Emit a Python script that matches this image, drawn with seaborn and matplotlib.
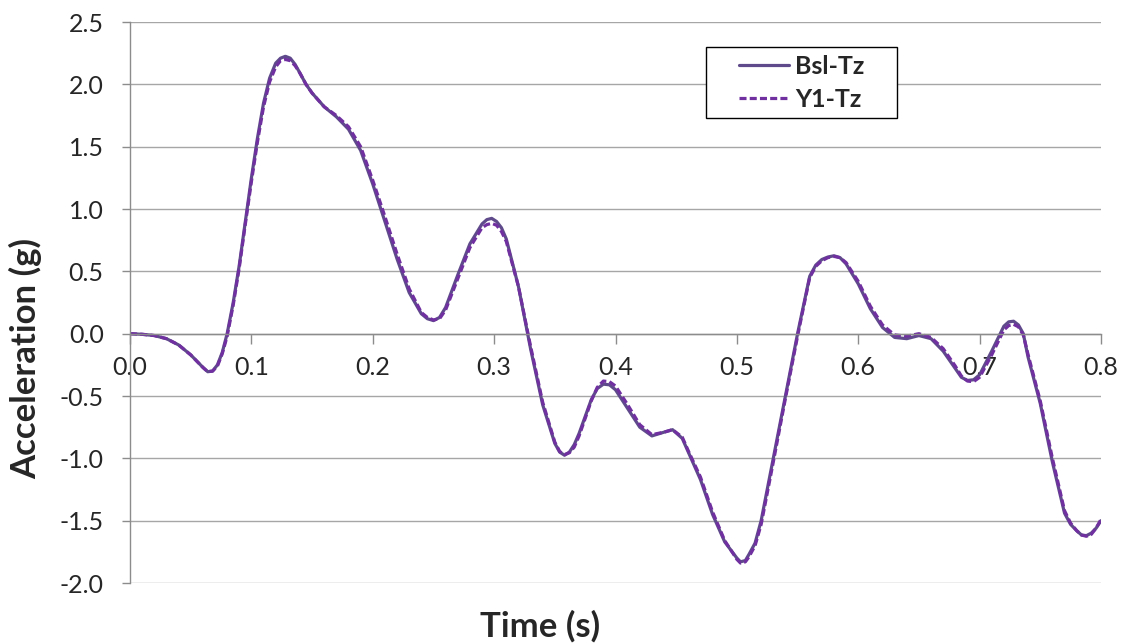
import numpy as np
import pandas as pd
import matplotlib
matplotlib.use("Agg")
import matplotlib.pyplot as plt
import seaborn as sns
from matplotlib.patches import Rectangle

# Values
time_s = [0.000, 0.010, 0.020, 0.030, 0.040, 0.050, 0.060, 0.064, 0.068, 0.072,
          0.076, 0.080, 0.085, 0.090, 0.095, 0.100, 0.105, 0.110, 0.115, 0.120,
          0.124, 0.128, 0.132, 0.136, 0.140, 0.145, 0.150, 0.160, 0.170, 0.180,
          0.190, 0.200, 0.210, 0.220, 0.230, 0.240, 0.245, 0.250, 0.255, 0.260,
          0.270, 0.280, 0.290, 0.294, 0.298, 0.302, 0.306, 0.310, 0.320, 0.330,
          0.340, 0.350, 0.354, 0.358, 0.362, 0.366, 0.370, 0.380, 0.385, 0.390,
          0.395, 0.400, 0.410, 0.420, 0.430, 0.440, 0.447, 0.455, 0.460, 0.470,
          0.480, 0.490, 0.500, 0.503, 0.507, 0.510, 0.515, 0.520, 0.530, 0.540,
          0.550, 0.560, 0.565, 0.570, 0.575, 0.580, 0.585, 0.590, 0.600, 0.610,
          0.620, 0.630, 0.640, 0.650, 0.660, 0.670, 0.680, 0.685, 0.690, 0.695,
          0.700, 0.710, 0.720, 0.724, 0.728, 0.732, 0.736, 0.740, 0.750, 0.760,
          0.770, 0.775, 0.780, 0.784, 0.788, 0.792, 0.796, 0.800]

bsl_tz = [0.00, -0.005, -0.015, -0.04, -0.09, -0.17, -0.27, -0.305, -0.30, -0.25,
          -0.15, 0.00, 0.25, 0.55, 0.90, 1.25, 1.57, 1.85, 2.05, 2.17,
          2.21, 2.225, 2.21, 2.16, 2.09, 2.00, 1.93, 1.82, 1.74, 1.64,
          1.47, 1.20, 0.90, 0.60, 0.33, 0.16, 0.12, 0.105, 0.13, 0.21,
          0.47, 0.72, 0.88, 0.915, 0.925, 0.90, 0.85, 0.76, 0.38, -0.12,
          -0.57, -0.88, -0.95, -0.975, -0.95, -0.89, -0.80, -0.53, -0.44, -0.405,
          -0.41, -0.45, -0.60, -0.75, -0.82, -0.79, -0.77, -0.84, -0.95, -1.17,
          -1.45, -1.67, -1.80, -1.83, -1.82, -1.77, -1.68, -1.50, -1.00, -0.50,
          0.00, 0.46, 0.55, 0.595, 0.615, 0.625, 0.61, 0.56, 0.40, 0.20,
          0.05, -0.03, -0.04, -0.015, -0.04, -0.14, -0.28, -0.35, -0.375, -0.37,
          -0.33, -0.14, 0.06, 0.095, 0.10, 0.07, 0.00, -0.19, -0.56, -1.03,
          -1.44, -1.53, -1.58, -1.615, -1.62, -1.60, -1.56, -1.50]

y1_tz = [0.00, -0.005, -0.015, -0.04, -0.09, -0.17, -0.27, -0.305, -0.30, -0.26,
         -0.16, -0.02, 0.23, 0.53, 0.88, 1.22, 1.54, 1.82, 2.02, 2.14,
         2.19, 2.20, 2.19, 2.15, 2.09, 2.00, 1.93, 1.82, 1.75, 1.66,
         1.50, 1.23, 0.94, 0.64, 0.36, 0.17, 0.13, 0.11, 0.12, 0.19,
         0.44, 0.69, 0.85, 0.875, 0.885, 0.87, 0.82, 0.74, 0.38, -0.10,
         -0.55, -0.87, -0.945, -0.97, -0.955, -0.91, -0.82, -0.54, -0.43, -0.38,
         -0.385, -0.42, -0.57, -0.73, -0.81, -0.79, -0.77, -0.83, -0.94, -1.15,
         -1.43, -1.66, -1.81, -1.84, -1.83, -1.79, -1.70, -1.53, -1.03, -0.52,
         -0.02, 0.45, 0.54, 0.585, 0.61, 0.62, 0.61, 0.57, 0.42, 0.22,
         0.07, -0.01, -0.02, 0.00, -0.03, -0.12, -0.26, -0.34, -0.38, -0.385,
         -0.35, -0.17, 0.03, 0.065, 0.075, 0.055, -0.01, -0.17, -0.54, -1.00,
         -1.42, -1.52, -1.58, -1.615, -1.625, -1.61, -1.56, -1.49]

y_ticks = [-2.0, -1.5, -1.0, -0.5, 0.0, 0.5, 1.0, 1.5, 2.0, 2.5]
x_ticks = [0.0, 0.1, 0.2, 0.3, 0.4, 0.5, 0.6, 0.7, 0.8]

df = pd.DataFrame({"Time": time_s, "Bsl-Tz": bsl_tz, "Y1-Tz": y1_tz})

sns.set_style("white")
plt.rcParams["font.family"] = ["Lato", "DejaVu Sans"]

fig = plt.figure(figsize=(11.24, 6.44), dpi=100)
ax = fig.add_axes([0.1157, 0.0947, 0.8638, 0.8711])

sns.lineplot(data=df, x="Time", y="Bsl-Tz", ax=ax, color="#5f4b8b",
             linewidth=2.3, label="Bsl-Tz")
sns.lineplot(data=df, x="Time", y="Y1-Tz", ax=ax, color="#7030a0",
             linewidth=2.3, linestyle=(0, (2.2, 1.0)), label="Y1-Tz")

ax.set_xlim(0, 0.8)
ax.set_ylim(-2.0, 2.5)
ax.set_yticks(y_ticks)
ax.set_yticklabels([f"{v:.1f}" for v in y_ticks])
ax.set_xticks(x_ticks)
ax.set_xticklabels([f"{v:.1f}" for v in x_ticks])

ax.grid(axis="y", color="#a6a6a6", linewidth=1.0)
ax.grid(axis="x", visible=False)
ax.set_axisbelow(True)

for side in ["top", "right"]:
    ax.spines[side].set_visible(False)
ax.spines["left"].set_color("#8c8c8c")
ax.spines["left"].set_linewidth(1.0)
ax.spines["bottom"].set_position(("data", 0))
ax.spines["bottom"].set_color("#8c8c8c")
ax.spines["bottom"].set_linewidth(1.0)

ax.tick_params(axis="y", direction="out", length=6, width=1.0, color="#8c8c8c",
               labelsize=18, pad=13, left=True)
ax.tick_params(axis="x", direction="out", length=7, width=1.0, color="#8c8c8c",
               labelsize=18, pad=9, bottom=True)

ax.set_xlabel("Time (s)", fontsize=25, fontweight="bold")
ax.xaxis.set_label_coords(0.422, -0.048)
ax.set_ylabel("Acceleration (g)", fontsize=25, fontweight="bold")
ax.yaxis.set_label_coords(-0.09, 0.40)

# legend without its own frame; an Excel-like box with wider side padding is drawn round it
leg = ax.legend(loc="upper left", bbox_to_anchor=(0.619, 0.955), borderaxespad=0,
                frameon=False, handlelength=2.0, handletextpad=0.25,
                labelspacing=0.4, borderpad=0.3,
                prop={"weight": "bold", "size": 18})
fig.canvas.draw()
bb = leg.get_window_extent().transformed(fig.transFigure.inverted())
side_pad = 25 / 1124
ax_frame = Rectangle((bb.x0 - side_pad, bb.y0), bb.width + 2 * side_pad, bb.height,
                     transform=fig.transFigure, facecolor="white", edgecolor="black",
                     linewidth=1.0, zorder=4)
fig.add_artist(ax_frame)
leg.remove()
fig.add_artist(leg)
leg.set_zorder(5)

fig.savefig("out.png", dpi=100)
